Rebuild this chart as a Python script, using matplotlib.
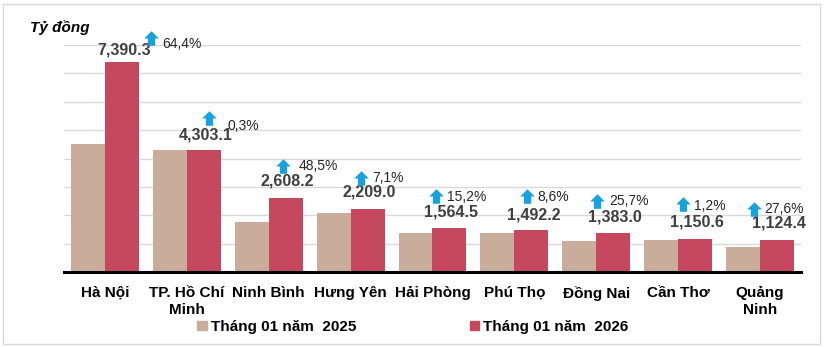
import matplotlib
matplotlib.use("Agg")
import matplotlib.pyplot as plt
import matplotlib.patches as mpatches
from matplotlib.path import Path
from matplotlib.transforms import ScaledTranslation
import numpy as np

# ---------------- data ----------------
categories = ["Hà Nội", "TP. Hồ Chí\nMinh", "Ninh Bình", "Hưng Yên", "Hải Phòng",
              "Phú Thọ", "Đồng Nai", "Cần Thơ", "Quảng\nNinh"]
values_2025 = [4495.0, 4290.2, 1756.4, 2062.6, 1358.1, 1374.0, 1100.2, 1137.0, 881.2]
values_2026 = [7390.3, 4303.1, 2608.2, 2209.0, 1564.5, 1492.2, 1383.0, 1150.6, 1124.4]
value_labels = ["7,390.3", "4,303.1", "2,608.2", "2,209.0", "1,564.5",
                "1,492.2", "1,383.0", "1,150.6", "1,124.4"]
pct_labels = ["64,4%", "0,3%", "48,5%", "7,1%", "15,2%", "8,6%", "25,7%", "1,2%", "27,6%"]
series_names = ["Tháng 01 năm  2025", "Tháng 01 năm  2026"]
y_title = "Tỷ đồng"

# label placement tweaks (pixels, relative to the 2026 bar top centre)
arrow_dx = [29, 5, -3, -7, -13, -4, -16, -12, -23]
arrow_dy = [24, 32, 32, 31, 32, 34, 32, 35, 31]
pct_dx = [11, 19, 16, 12, 11, 10, 12, 11, 10]
pct_dy = [-6, -8, 0, 0, -1, -1, 0, -2, 0]
label_dy = [12, 15, 17, 17, 16, 15, 16, 17, 17]

# ---------------- style ----------------
C_2025 = "#C9AD9A"
C_2026 = "#C6485F"
C_ARROW = "#17A2DF"
C_GRID = "#D9D9D9"
C_TEXT = "#404040"
ARIAL = ["Liberation Sans", "DejaVu Sans"]

W, H = 824, 347
fig = plt.figure(figsize=(W / 100, H / 100), dpi=100)
ax = fig.add_axes([64 / W, 1 - 272 / H, 737 / W, 227 / H])

x = np.arange(len(categories))
bw = 0.415
ax.bar(x - bw / 2, values_2025, width=bw, color=C_2025, label=series_names[0], zorder=2)
ax.bar(x + bw / 2, values_2026, width=bw, color=C_2026, label=series_names[1], zorder=2)

ax.set_xlim(-0.5, len(categories) - 0.5)
ax.set_ylim(0, 8000)
ax.set_yticks(np.arange(0, 8001, 1000))
ax.yaxis.grid(True, color=C_GRID, linewidth=1, zorder=0)
ax.tick_params(axis="y", left=False, labelleft=False)
ax.tick_params(axis="x", length=0, pad=10)
ax.set_xticks(x)
ax.set_xticklabels(categories, fontfamily=ARIAL, fontweight="bold", fontsize=11,
                   color="black", linespacing=1.25, va="top")
for s in ["left", "right", "top"]:
    ax.spines[s].set_visible(False)
ax.spines["bottom"].set_color("black")
ax.spines["bottom"].set_linewidth(2.2)
ax.spines["bottom"].set_zorder(3)

# arrow marker
arrow_path = Path([(-1, 0), (0, 1), (1, 0), (0.5, 0), (0.5, -1), (-0.5, -1), (-0.5, 0), (-1, 0)],
                  [Path.MOVETO] + [Path.LINETO] * 6 + [Path.CLOSEPOLY])

for i in range(len(categories)):
    xr = x[i] + bw / 2
    v = values_2026[i]
    ax.annotate(value_labels[i], xy=(xr, v), xytext=(2, label_dy[i]), textcoords="offset pixels",
                ha="center", va="center", fontfamily=ARIAL, fontweight="bold",
                fontsize=11.5, color=C_TEXT, zorder=5)
    tr = ax.transData + ScaledTranslation(arrow_dx[i] / 100, arrow_dy[i] / 100, fig.dpi_scale_trans)
    ax.plot([xr], [v], marker=arrow_path, markersize=10.5, color=C_ARROW, markeredgewidth=0,
            transform=tr, clip_on=False, zorder=6)
    ax.annotate(pct_labels[i], xy=(xr, v),
                xytext=(arrow_dx[i] + pct_dx[i], arrow_dy[i] + pct_dy[i]),
                textcoords="offset pixels", ha="left", va="center",
                fontfamily=ARIAL, fontsize=10, color="#262626", zorder=6)

fig.text(30 / W, 1 - 28 / H, y_title, fontfamily=ARIAL, fontweight="bold", fontstyle="italic",
         fontsize=11, color="black", ha="left", va="center")

handles = [mpatches.Patch(color=C_2025), mpatches.Patch(color=C_2026)]
fig.legend(handles, series_names, loc="center", bbox_to_anchor=(413 / W, 1 - 327 / H), ncol=2,
           frameon=False, handlelength=0.6, handleheight=0.6, handletextpad=0.3,
           columnspacing=7.4, prop={"family": ARIAL, "weight": "bold", "size": 11})

fig.add_artist(mpatches.Rectangle((3 / W, 3 / H), 817 / W, 340 / H, transform=fig.transFigure,
                                  fill=False, edgecolor="#D9D9D9", linewidth=1))

fig.savefig("out.png", dpi=100, facecolor="white")
